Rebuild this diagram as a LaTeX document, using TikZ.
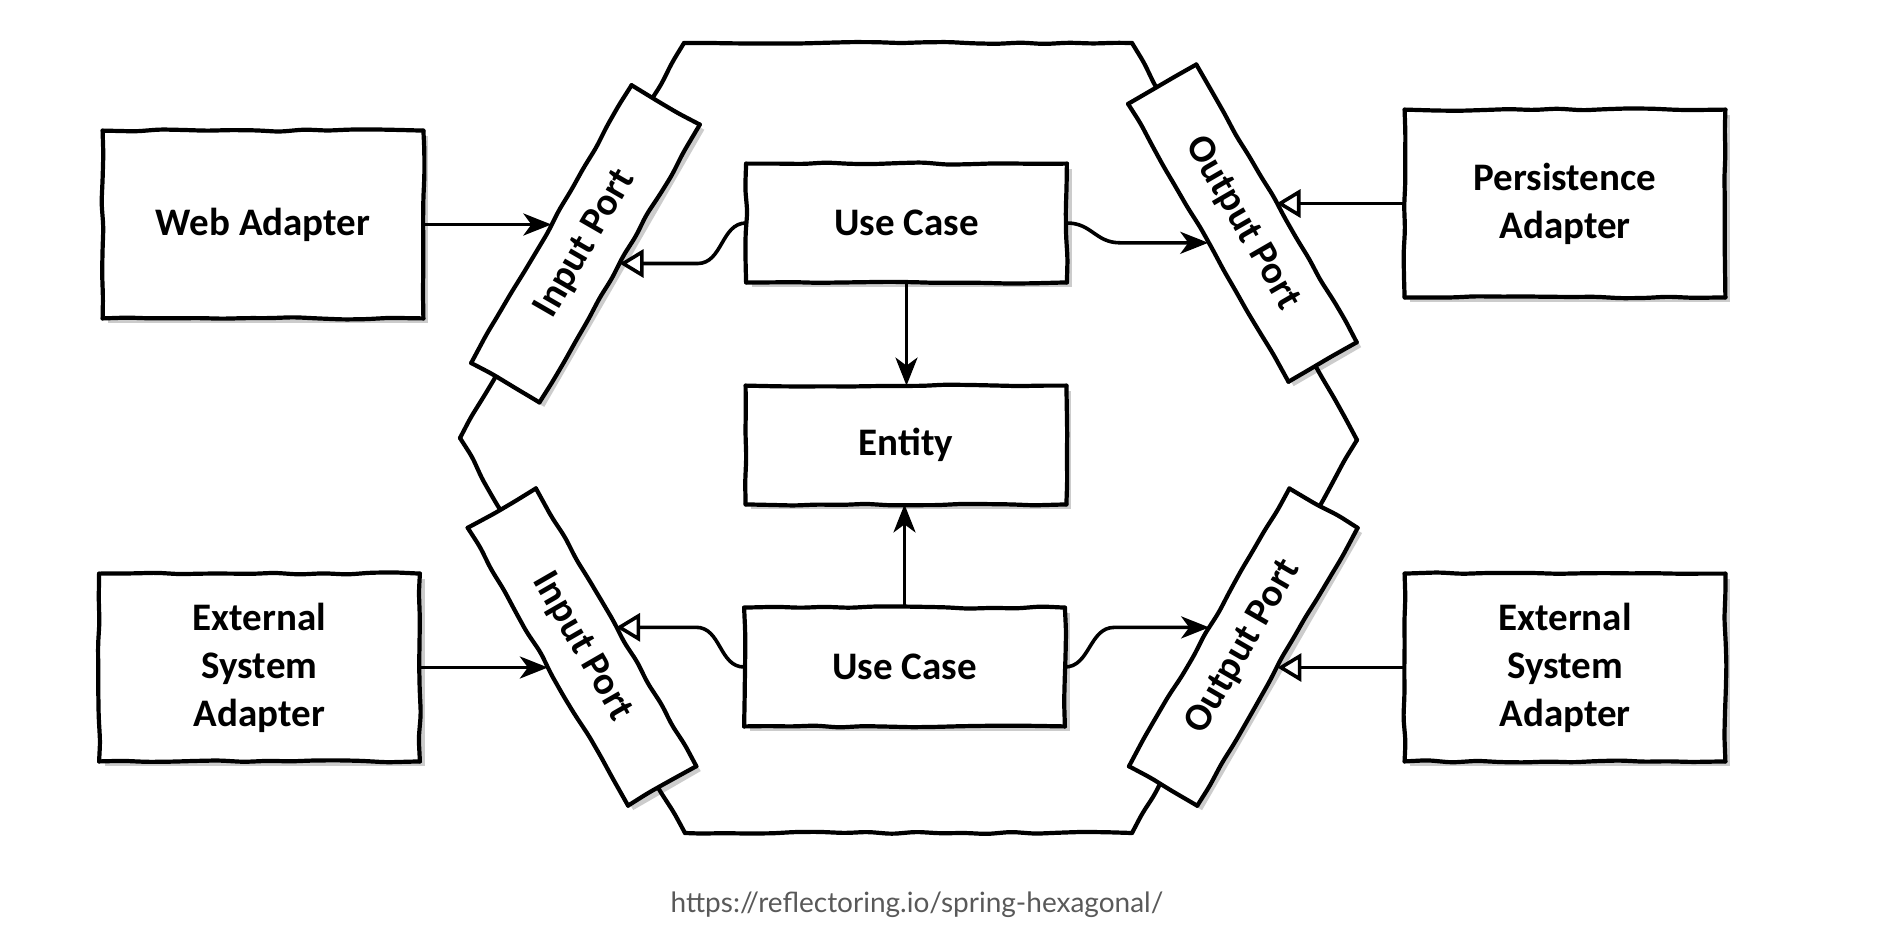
\documentclass[tikz,border=0pt]{standalone}
\usepackage{fontspec}
\setmainfont{Carlito}
\newfontfamily\capfont{Lato}
\usetikzlibrary{arrows.meta,shadows,decorations.pathmorphing,calc}
\newcommand\skedge[2]{\draw[skl] (#1) -- (#2);}
\newcommand\skbox[1]{\skedge{#1.south west}{#1.south east}\skedge{#1.south east}{#1.north east}\skedge{#1.north east}{#1.north west}\skedge{#1.north west}{#1.south west}}
\begin{document}
\pgfmathsetseed{11}
\begin{tikzpicture}[x=0.5pt, y=-0.5pt,
  every node/.style={font=\bfseries\fontsize{19.5}{24}\selectfont, align=center, inner sep=0pt},
  skl/.style={line width=2.1pt, line cap=round, decorate, decoration={random steps, segment length=12pt, amplitude=0.6pt}, rounded corners=3pt},
  shade/.style={drop shadow={shadow xshift=2.5pt, shadow yshift=-2.5pt, fill=black, opacity=0.2}},
  box/.style={fill=white, shade, minimum width=160pt, minimum height=93.5pt},
  uc/.style={box, minimum height=59pt},
  port/.style={fill=white, shade, minimum width=160pt, minimum height=39pt},
  conn/.style={line width=1.8pt},
  fa/.style={conn, -{Stealth[length=14pt, width=11pt, inset=4pt]}},
  oa/.style={conn, -{Triangle[open, length=12pt, width=14pt, fill=white, line width=1.8pt]}},
]
\useasboundingbox (0,0) rectangle (1892,944);

% hexagon
\coordinate (h1) at (684,43);
\coordinate (h2) at (1132,43);
\coordinate (h3) at (1357,440);
\coordinate (h4) at (1132,833);
\coordinate (h5) at (685,833);
\coordinate (h6) at (460,438);
\fill[black, opacity=0.2, xshift=2.5pt, yshift=-2.5pt] (h1) -- (h2) -- (h3) -- (h4) -- (h5) -- (h6) -- cycle;
\fill[white] (h1) -- (h2) -- (h3) -- (h4) -- (h5) -- (h6) -- cycle;
\skedge{h1}{h2}\skedge{h2}{h3}\skedge{h3}{h4}\skedge{h4}{h5}\skedge{h5}{h6}\skedge{h6}{h1}

% ports
\node[port, rotate=60]  (inT)  at (585.5,243.8) {Input Port};
\node[port, rotate=-60] (inB)  at (582,647) {Input Port};
\node[port, rotate=-60] (outT) at (1242.4,223.1) {Output Port};
\node[port, rotate=60]  (outB) at (1243.3,647.1) {Output Port};
\skbox{inT}\skbox{inB}\skbox{outT}\skbox{outB}

% boxes
\node[box] (web)  at (263,224.5) {Web Adapter};
\node[box] (extL) at (259.5,667.5) {External\\System\\Adapter};
\node[box] (pers) at (1565,203.5) {Persistence\\Adapter};
\node[box] (extR) at (1565,667.5) {External\\System\\Adapter};
\node[uc]  (ucT)  at (906.5,223) {Use Case};
\node[uc]  (ent)  at (906,445) {Entity};
\node[uc]  (ucB)  at (904.5,667) {Use Case};
\skbox{web}\skbox{extL}\skbox{pers}\skbox{extR}\skbox{ucT}\skbox{ent}\skbox{ucB}

% connectors
\draw[fa] (web.east) -- (web.east -| inT.north);
\draw[fa] (extL.east) -- (extL.east -| inB.south);
\draw[oa] (pers.west) -- (pers.west -| outT.north);
\draw[oa] (extR.west) -- (extR.west -| outB.south);
\draw[fa] (ucT.south) -- (ucT.south |- ent.north);
\draw[fa] (ucB.north) -- (ucB.north |- ent.south);

\draw[oa] (ucT.west) .. controls +(-25,0) and +(25,0) .. ($(inT.south)+(78,0)$) -- (inT.south);
\draw[fa] (ucT.east) .. controls +(25,0) and +(-25,0) .. ($(outT.south)+(-88,0)$) -- (outT.south);
\draw[oa] (ucB.west) .. controls +(-25,0) and +(25,0) .. ($(inB.north)+(80,0)$) -- (inB.north);
\draw[fa] (ucB.east) .. controls +(25,0) and +(-25,0) .. ($(outB.north)+(-95,0)$) -- (outB.north);

% caption
\node[font=\capfont\fontsize{14}{18}\selectfont, text=black!65, anchor=base] (cap) at (917,912) {https://reflectoring.io/spring-hexagonal/};
\end{tikzpicture}
\end{document}
